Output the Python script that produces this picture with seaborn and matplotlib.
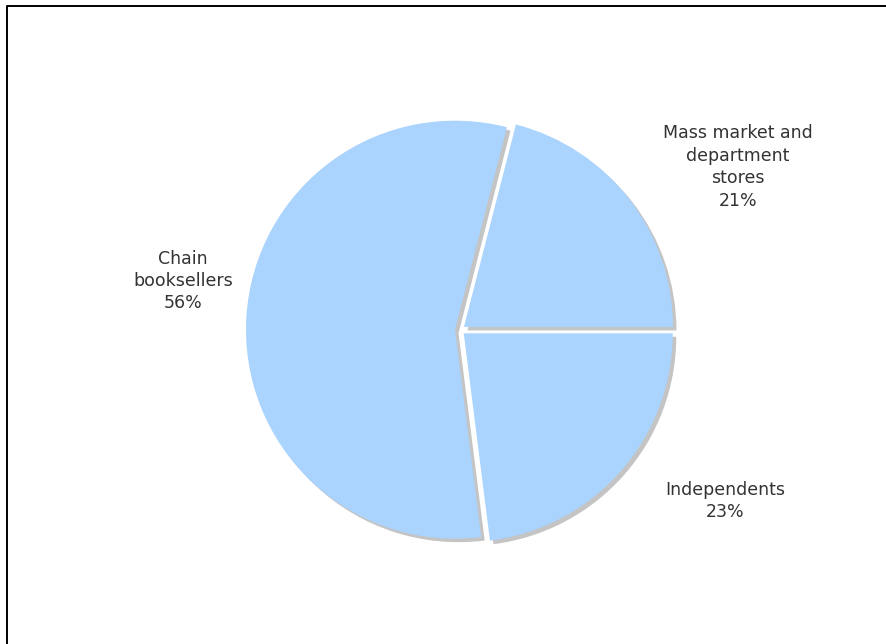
import matplotlib
matplotlib.use("Agg")
import matplotlib.pyplot as plt
import seaborn as sns
from matplotlib.lines import Line2D

# Book sales by retail channel
categories = ["Mass market and\ndepartment\nstores", "Chain\nbooksellers", "Independents"]
shares = [21, 56, 23]

sns.set_theme(style="white")
plt.rcParams["font.family"] = ["DejaVu Sans"]

W, H = 887, 644
fig = plt.figure(figsize=(W / 100, H / 100), dpi=100)
ax = fig.add_axes([0, 0, 1, 1])

slice_color = "#aad4fe"
shadow_color = "#c4c4c4"
cx, cy, r = 460, H - 330, 209
explode = [5] * len(shares)

# drop shadow: the same pie, grey, nudged right and down
ax.pie(shares, colors=[shadow_color] * len(shares), explode=explode,
       startangle=0, counterclock=True, radius=r, center=(cx + 3.5, cy - 3.5),
       frame=False, wedgeprops=dict(linewidth=0))
ax.pie(shares, colors=[slice_color] * len(shares), explode=explode,
       startangle=0, counterclock=True, radius=r, center=(cx, cy),
       frame=False, wedgeprops=dict(linewidth=0))

ax.set_xlim(0, W)
ax.set_ylim(0, H)
ax.set_aspect("equal")
ax.axis("off")

label_pos = [(738, 167), (183, 281), (725, 501)]
for cat, val, (lx, ly) in zip(categories, shares, label_pos):
    ax.text(lx, H - ly, f"{cat}\n{val}%", ha="center", va="center",
            fontsize=12.5, color="#333333", linespacing=1.32)

# outer frame (top and left edges)
fx, fy = 7.5 / W, 1 - 5.5 / H
fig.add_artist(Line2D([fx, fx, 1.0], [0.0, fy, fy], transform=fig.transFigure,
                      color="black", linewidth=1.4))

fig.savefig("out.png", dpi=100)
